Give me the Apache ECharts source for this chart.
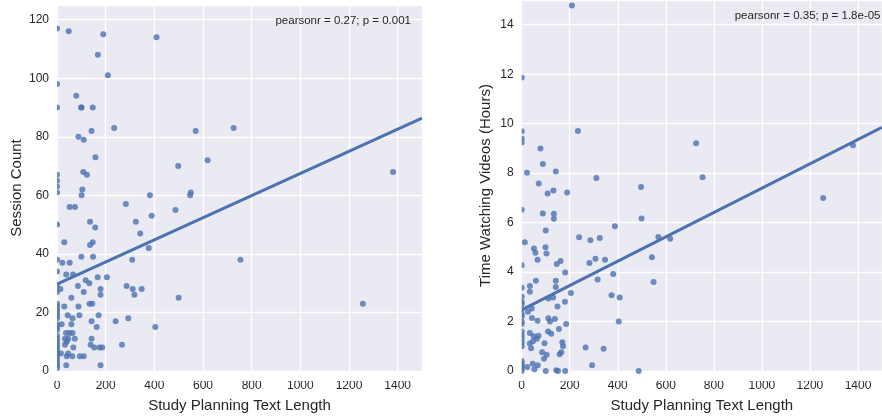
<!DOCTYPE html>
<html><head><meta charset="utf-8">
<script src="https://cdn.jsdelivr.net/npm/echarts@6/dist/echarts.min.js"></script>
<style>html,body{margin:0;padding:0;background:#fff}#c{width:882px;height:418px}</style>
</head><body><div id="c"></div>
<script>
// ---- data ----
const xName = 'Study Planning Text Length';
const yNameLeft = 'Session Count';
const yNameRight = 'Time Watching Videos (Hours)';
const noteLeft = 'pearsonr = 0.27; p = 0.001';
const noteRight = 'pearsonr = 0.35; p = 1.8e-05';

// Session Count vs text length
const sessionPoints = [
 [0,117],[48,116],[190,115],[409,114],[168,108],[209,101],[0,98],[79,94],[0,90],[99,90],[101,90],[147,90],
 [235,83],[570,82],[142,82],[88,80],[110,79],[158,73],[619,72],[498,70],[0,67],[0,65],[0,63],[0,61],
 [108,68],[123,67],[104,62],[101,60],[382,60],[547,60],[550,61],[726,83],[1381,68],[754,38],[1257,23],
 [52,56],[74,56],[283,57],[487,55],[389,53],[0,50],[136,51],[157,49],[324,51],[342,47],[30,44],[147,44],
 [136,43],[377,42],[148,39],[0,38],[100,39],[309,38],[22,37],[52,37],[38,33],[66,33],[167,32],[205,32],
 [118,31],[133,30],[14,28],[0,29],[86,29],[179,28],[110,27],[179,26],[286,29],[311,28],[348,28],[318,26],
 [59,25],[500,25],[0,34],[0,27],
 [0,23],[0,22],[0,21],[0,20],[0,19],[0,18],[30,22],[88,22],[134,23],[145,23],[44,19],[92,19],[171,19],
 [64,18],[19,16],[59,16],[142,17],[163,15],[241,17],[293,18],[404,15],
 [0,16],[0,15],[0,14],[0,12],[0,11],[0,10],[0,9],[0,8],[0,7],[0,6],[0,5],[0,4],[0,3],[0,2],[0,1],
 [37,13],[51,13],[64,13],[33,11],[46,11],[73,11],[33,9],[40,10],[142,11],[138,9],[153,8],[175,8],[186,8],
 [267,9],[67,8],[16,6],[46,6],[63,5],[40,5],[94,5],[110,5],[38,2],[179,2]
];
const sessionFit = [[0,29.7],[1500,86.4]];

// Time Watching Videos (Hours) vs text length
const videoPoints = [
 [209,14.78],[0,11.87],[0,9.69],[234,9.7],[0,9.39],[0,9.24],[78,9.0],[88,8.37],[142,8.07],[22,8.02],
 [311,7.8],[497,7.44],[71,7.58],[108,7.18],[132,7.3],[189,7.22],[726,9.21],[1379,9.13],[753,7.83],
 [1255,6.99],[499,6.17],[569,5.42],[618,5.35],[542,4.6],[549,3.6],
 [0,6.52],[88,6.37],[134,6.36],[134,6.16],[388,5.85],[100,5.68],[239,5.41],[286,5.29],[325,5.38],[13,5.21],
 [51,4.95],[99,5.0],[57,4.78],[103,4.75],[66,4.5],[146,4.33],[162,4.45],[282,4.37],[307,4.54],[347,4.5],[0,4.28],
 [34,3.44],[59,3.65],[34,3.2],[0,3.37],[142,3.65],[142,3.4],[181,3.98],[205,3.15],[316,3.7],[381,3.92],
 [374,3.06],[408,2.97],[111,2.93],[131,2.97],[149,2.61],[180,2.8],[26,2.4],[42,2.53],
 [0,3.0],[0,2.8],[0,2.7],[0,2.5],[0,2.3],[0,2.2],[0,2.0],[0,1.9],[0,1.6],[0,1.45],[0,1.3],[0,1.15],[0,1.0],
 [0,0.4],[0,0.3],[0,0.2],[0,0.1],[0,0],
 [43,2.14],[66,2.03],[111,2.13],[118,2.0],[138,2.1],[185,1.9],[404,2.0],[34,1.54],[50,1.41],[70,1.43],
 [63,1.3],[110,1.6],[123,1.51],[155,1.7],[95,1.12],[34,1.11],[47,1.2],[39,0.92],[169,1.16],[172,1.0],
 [165,0.76],[158,0.68],[266,0.95],[341,0.9],[85,0.76],[104,0.66],[93,0.5],[293,0.23],[487,0],
 [23,0.16],[46,0.29],[53,0.07],[67,0.23],[100,0],[144,0.03],[151,0],[181,0]
];
const videoFit = [[0,2.47],[1500,9.85]];

// ---- chart ----
const FONT = '"Liberation Sans", Arial, sans-serif';
const TXT = '#262626';
const BLUE = '#4C72B0';
const BG = '#EAEAF2';
const plain = v => String(v);

function xAxis(gi) {
  return {
    type: 'value', gridIndex: gi, min: 0, max: 1500, interval: 200,
    name: xName, nameLocation: 'middle', nameGap: 27,
    nameTextStyle: { fontFamily: FONT, fontSize: 15, color: TXT },
    axisLine: { show: false }, axisTick: { show: false },
    axisLabel: { fontFamily: FONT, fontSize: 12, color: TXT, margin: 9, showMaxLabel: false, formatter: plain },
    splitLine: { show: true, lineStyle: { color: '#fff', width: 1.4 } }
  };
}
function yAxis(gi, max, interval, name, gap) {
  return {
    type: 'value', gridIndex: gi, min: 0, max: max, interval: interval,
    name: name, nameLocation: 'middle', nameGap: gap,
    nameTextStyle: { fontFamily: FONT, fontSize: 15, color: TXT },
    axisLine: { show: false }, axisTick: { show: false },
    axisLabel: { fontFamily: FONT, fontSize: 12, color: TXT, margin: 8, showMaxLabel: false, formatter: plain },
    splitLine: { show: true, lineStyle: { color: '#fff', width: 1.4 } }
  };
}

const chart = echarts.init(document.getElementById('c'), null, { renderer: 'canvas' });
chart.setOption({
  animation: false,
  backgroundColor: '#fff',
  grid: [
    { left: 57, top: 5, width: 365, height: 369, show: true, backgroundColor: BG, borderWidth: 0 },
    { left: 521.7, top: 0, width: 370, height: 374, show: true, backgroundColor: BG, borderWidth: 0 }
  ],
  xAxis: [xAxis(0), xAxis(1)],
  yAxis: [yAxis(0, 125, 20, yNameLeft, 33), yAxis(1, 15, 2, yNameRight, 28)],
  series: [
    { type: 'scatter', xAxisIndex: 0, yAxisIndex: 0, data: sessionPoints, symbolSize: 6,
      itemStyle: { color: BLUE, opacity: 0.8 }, z: 3 },
    { type: 'line', xAxisIndex: 0, yAxisIndex: 0, data: sessionFit, symbol: 'none',
      lineStyle: { color: BLUE, width: 3 }, z: 4 },
    { type: 'scatter', xAxisIndex: 1, yAxisIndex: 1, data: videoPoints, symbolSize: 6,
      itemStyle: { color: BLUE, opacity: 0.8 }, z: 3 },
    { type: 'line', xAxisIndex: 1, yAxisIndex: 1, data: videoFit, symbol: 'none',
      lineStyle: { color: BLUE, width: 3 }, z: 4 }
  ],
  graphic: [
    // white masks so edge markers appear clipped by the plot frame
    { type: 'rect', z: 50, silent: true, shape: { x: 50, y: 0, width: 7, height: 381 }, style: { fill: '#fff' } },
    { type: 'rect', z: 50, silent: true, shape: { x: 50, y: 374, width: 380, height: 7 }, style: { fill: '#fff' } },
    { type: 'rect', z: 50, silent: true, shape: { x: 514.7, y: 0, width: 7, height: 381 }, style: { fill: '#fff' } },
    { type: 'rect', z: 50, silent: true, shape: { x: 514.7, y: 374, width: 380, height: 7 }, style: { fill: '#fff' } },
    { type: 'text', z: 60, silent: true, style: { text: noteLeft, x: 411, y: 21, align: 'right', verticalAlign: 'middle',
      font: '11.5px ' + FONT, fill: TXT } },
    { type: 'text', z: 60, silent: true, style: { text: noteRight, x: 880.5, y: 16, align: 'right', verticalAlign: 'middle',
      font: '11.5px ' + FONT, fill: TXT } }
  ]
});
</script>
</body></html>
